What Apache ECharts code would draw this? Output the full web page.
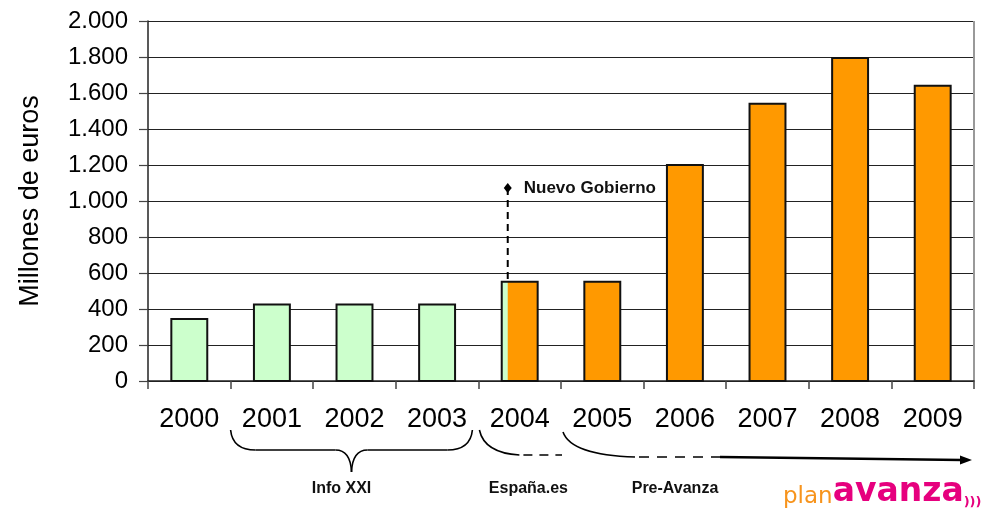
<!DOCTYPE html>
<html>
<head>
<meta charset="utf-8">
<script src="https://cdn.jsdelivr.net/npm/echarts@6/dist/echarts.min.js"></script>
<style>
  html, body { margin: 0; padding: 0; background: #fff; }
  #chart { width: 992px; height: 510px; }
</style>
</head>
<body>
<div id="chart"></div>
<script>
var years = ['2000', '2001', '2002', '2003', '2004', '2005', '2006', '2007', '2008', '2009'];
var budget = [345, 425, 425, 425, 552, 552, 1200, 1540, 1795, 1640];
// 0 = Info XXI (green), 1 = España.es / Avanza (orange), 2 = year of change (both)
var phase = [0, 0, 0, 0, 2, 1, 1, 1, 1, 1];

var GREEN = '#CCFFCC';
var ORANGE = '#FF9900';
var FONT = '"Liberation Sans", Arial, sans-serif';
var BAR_RATIO = 0.435;

var chart = echarts.init(document.getElementById('chart'));

function thousands(v) {
  return String(v).replace(/\B(?=(\d{3})+(?!\d))/g, '.');
}

var option = {
  animation: false,
  grid: { left: 148, right: 18, top: 21, bottom: 129 },
  xAxis: {
    type: 'category',
    data: years,
    axisLine: { lineStyle: { color: '#222', width: 1.5 } },
    axisTick: { show: true, length: 8, lineStyle: { color: '#444', width: 1.5 } },
    axisLabel: { color: '#000', fontSize: 27, fontFamily: FONT, margin: 25 },
    splitLine: { show: false }
  },
  yAxis: {
    type: 'value',
    min: 0,
    max: 2000,
    interval: 200,
    name: 'Millones de euros',
    nameLocation: 'middle',
    nameGap: 104,
    nameTextStyle: { color: '#000', fontSize: 27, fontFamily: FONT },
    axisLine: { show: true, lineStyle: { color: '#222', width: 1.5 } },
    axisTick: { show: true, length: 9, lineStyle: { color: '#444', width: 1.2 } },
    axisLabel: { color: '#000', fontSize: 24, fontFamily: FONT, margin: 20, formatter: thousands },
    splitLine: { show: true, lineStyle: { color: '#222', width: 1 } }
  },
  series: [{
    type: 'custom',
    name: 'Presupuesto',
    data: years.map(function (y, i) { return [i, budget[i], phase[i]]; }),
    encode: { x: 0, y: 1 },
    renderItem: function (params, api) {
      var i = api.value(0);
      var top = api.coord([i, api.value(1)]);
      var base = api.coord([i, 0]);
      var w = api.size([1, 0])[0] * BAR_RATIO;
      var x = top[0] - w / 2;
      var h = base[1] - top[1];
      var p = api.value(2);
      var kids = [];
      kids.push({ type: 'rect', shape: { x: x, y: top[1], width: w, height: h },
        style: { fill: p === 0 ? GREEN : ORANGE } });
      if (p === 2) {
        kids.push({ type: 'rect', shape: { x: x, y: top[1], width: 6, height: h },
          style: { fill: GREEN } });
      }
      kids.push({ type: 'rect', shape: { x: x, y: top[1], width: w, height: h },
        style: { fill: null, stroke: '#111', lineWidth: 2 } });
      return { type: 'group', children: kids };
    }
  }]
};

chart.setOption(option);

// annotations placed from the axes
function px(i, v) { return chart.convertToPixel({ gridIndex: 0 }, [i, v]); }
var band = px(1, 0)[0] - px(0, 0)[0];
var bw = band * BAR_RATIO;
var axisY = px(0, 0)[1];
var topY = px(0, 2000)[1];
function edge(i) { return px(i, 0)[0] - band / 2; }

var lx = px(4, 0)[0] - bw / 2 + 6;
var lTop = px(4, 1072)[1];
var lBot = px(4, budget[4])[1];

var stroke = { fill: null, stroke: '#000', lineWidth: 1.6 };
function curve(x1, y1, cx, cy, x2, y2) {
  return { type: 'bezierCurve', shape: { x1: x1, y1: y1, cpx1: cx, cpy1: cy, x2: x2, y2: y2 }, style: stroke };
}
function seg(x1, y1, x2, y2, extra) {
  return { type: 'line', shape: { x1: x1, y1: y1, x2: x2, y2: y2 },
    style: Object.assign({ stroke: '#000', lineWidth: 1.6 }, extra || {}) };
}
function label(text, x, y) {
  return { type: 'text', x: x, y: y,
    style: { text: text, fill: '#111', font: 'bold 16px ' + FONT, textAlign: 'center', textVerticalAlign: 'middle' } };
}

var b0 = edge(1), b1 = edge(4) - 6, bm = (b0 + b1) / 2;
var yA = axisY + 49, yH = axisY + 69, yP = axisY + 91;
var e0 = edge(4) + 1;
var p0 = edge(5) + 2;

chart.setOption({
  graphic: [
    // right border of plot area
    seg(edge(10), topY, edge(10), axisY, { stroke: '#999', lineWidth: 2 }),

    seg(lx, lTop, lx, lBot, { lineWidth: 2, lineDash: [7, 5] }),
    { type: 'polygon', shape: { points: [[lx, lTop - 5], [lx + 4, lTop], [lx, lTop + 5], [lx - 4, lTop]] },
      style: { fill: '#000' } },
    { type: 'text', x: lx + 16, y: lTop,
      style: { text: 'Nuevo Gobierno', fill: '#111', font: 'bold 17px ' + FONT, textVerticalAlign: 'middle' } },

    // brace under Info XXI
    curve(b0, yA, b0 + 2, yH, b0 + 25, yH),
    seg(b0 + 25, yH, bm - 16, yH),
    curve(bm - 16, yH, bm - 1, yH, bm, yP),
    curve(bm, yP, bm + 1, yH, bm + 16, yH),
    seg(bm + 16, yH, b1 - 25, yH),
    curve(b1 - 25, yH, b1 - 2, yH, b1, yA),

    // España.es
    curve(e0, yA, e0 + 5, axisY + 72, e0 + 40, axisY + 74),
    seg(e0 + 44, axisY + 74, edge(5) + 1, axisY + 74, { lineDash: [9, 7] }),

    // Pre-Avanza arrow
    curve(p0, yA + 2, p0 + 8, axisY + 74, p0 + 72, axisY + 76),
    seg(p0 + 76, axisY + 76, p0 + 157, axisY + 76, { lineDash: [10, 8] }),
    seg(p0 + 157, axisY + 76, 962, axisY + 79, { lineWidth: 2.5 }),
    { type: 'polygon', shape: { points: [[972, axisY + 79], [960, axisY + 74.5], [960, axisY + 83.5]] },
      style: { fill: '#000' } },

    label('Info XXI', bm - 10, axisY + 108),
    label('España.es', edge(4) + 50, axisY + 108),
    label('Pre-Avanza', edge(5) + 114, axisY + 108),

    { type: 'text', x: 783, y: 509,
      style: {
        text: '{a|plan}{b|avanza}{c|)))}',
        textVerticalAlign: 'bottom',
        rich: {
          a: { fill: '#F7941D', font: '23px "DejaVu Sans", sans-serif', verticalAlign: 'bottom' },
          b: { fill: '#E6007E', font: 'bold 33px "DejaVu Sans", sans-serif', verticalAlign: 'bottom' },
          c: { fill: '#E6007E', font: 'bold 13px "DejaVu Sans", sans-serif', verticalAlign: 'bottom' }
        }
      } }
  ]
});
</script>
</body>
</html>
